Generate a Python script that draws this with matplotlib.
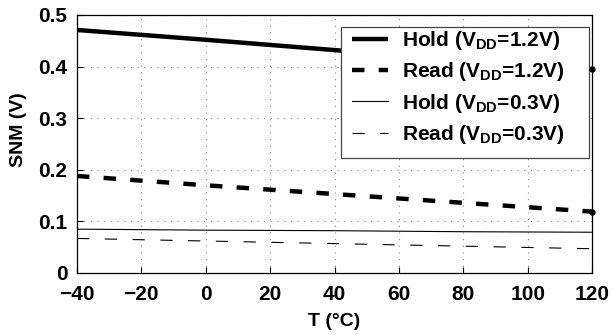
import matplotlib
matplotlib.use("Agg")
import matplotlib.pyplot as plt
from matplotlib.patches import Rectangle
import numpy as np

plt.rcParams['font.family'] = ['Liberation Sans', 'DejaVu Sans']
plt.rcParams['font.weight'] = 'bold'
plt.rcParams['mathtext.fontset'] = 'custom'
plt.rcParams['mathtext.rm'] = 'Liberation Sans:bold'
plt.rcParams['mathtext.default'] = 'rm'

T = [-40, 0, 40, 80, 120]
hold_12 = [0.471, 0.452, 0.432, 0.413, 0.395]
read_12 = [0.188, 0.170, 0.153, 0.136, 0.119]
hold_03 = [0.085, 0.083, 0.082, 0.080, 0.079]
read_03 = [0.067, 0.062, 0.057, 0.052, 0.047]
labels = ['Hold (V$_{DD}$=1.2V)', 'Read (V$_{DD}$=1.2V)',
          'Hold (V$_{DD}$=0.3V)', 'Read (V$_{DD}$=0.3V)']
xticks = [-40, -20, 0, 20, 40, 60, 80, 100, 120]
yticks = [0, 0.1, 0.2, 0.3, 0.4, 0.5]
yticklabels = ['0', '0.1', '0.2', '0.3', '0.4', '0.5']

W, H = 612, 335
fig = plt.figure(figsize=(W/100, H/100), dpi=100)
ax = fig.add_axes([77/W, 1-273/H, (592-77)/W, (273-15)/H])

ax.plot(T, hold_12, color='black', lw=3.2, solid_capstyle='butt', label=labels[0])
ax.plot(T, read_12, color='black', lw=3.2, dashes=(2.8, 3.2), label=labels[1])
ax.plot(T, hold_03, color='black', lw=0.8, label=labels[2])
ax.plot(T, read_03, color='black', lw=0.8, dashes=(11, 14), label=labels[3])
# end-point dots of the thick curves
ax.plot([T[-1], T[-1]], [hold_12[-1], read_12[-1]], 'o', color='black',
        markersize=3.5, clip_on=False, zorder=5)

ax.set_xlim(-40, 120)
ax.set_ylim(0, 0.5)
ax.set_xticks(xticks)
ax.set_yticks(yticks)
ax.set_yticklabels(yticklabels)
ax.tick_params(axis='x', pad=9)
ax.tick_params(axis='y', pad=7)
ax.tick_params(direction='in', labelsize=15, length=4, width=0.8,
               top=False, right=False)
ax.grid(True, linestyle=(0, (1, 5)), color='#888888', linewidth=0.8)
for s in ax.spines.values():
    s.set_linewidth(0.9)
ax.set_xlabel('T (°C)', fontsize=14, fontweight='bold', labelpad=6)
ax.set_ylabel('SNM (V)', fontsize=14, fontweight='bold')
ax.yaxis.set_label_coords((27-77)/515, (273-130)/258)

# legend frame (MATLAB-style, with extra room on the right)
frame = Rectangle((341/W, 1-158/H), 248/W, 131/H, transform=fig.transFigure,
                  facecolor='white', edgecolor='#444444', linewidth=0.9,
                  zorder=4, clip_on=False)
ax.add_patch(frame)
leg = ax.legend(loc='upper left', bbox_to_anchor=(352/W, 1-29/H),
                bbox_transform=fig.transFigure, borderaxespad=0,
                fontsize=15, frameon=False, handlelength=1.75,
                labelspacing=0.4, handletextpad=0.65, borderpad=0)
leg.set_zorder(6)

fig.savefig('out.png', dpi=100)
